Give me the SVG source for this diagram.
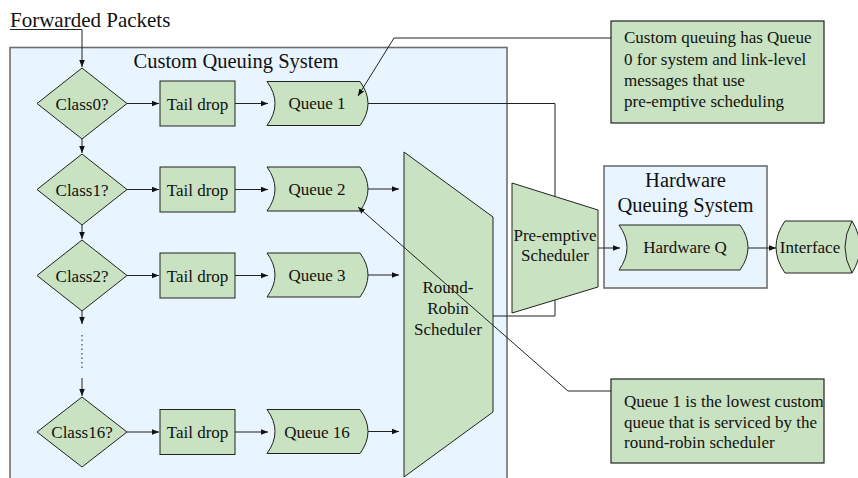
<svg xmlns="http://www.w3.org/2000/svg" width="858" height="478" viewBox="0 0 858 478" font-family="'Liberation Serif', 'DejaVu Serif', serif">
<style>
text{font-family:'Liberation Serif','DejaVu Serif',serif;fill:#111}
.t{font-size:17px;text-anchor:middle}
.title{font-size:20.5px;text-anchor:middle}
.note{font-size:17px}
.shape{fill:#C9E2C1;stroke:#222;stroke-width:1}
.box{fill:#E8F4FE;stroke:#6e6e6e;stroke-width:1.6}
.note-box{fill:#C9E2C1;stroke:#222;stroke-width:1.2}
.c{fill:none;stroke:#222;stroke-width:1}
.a{marker-end:url(#ah)}
.dot{stroke-dasharray:1.5 3}
</style>
<defs>
<marker id="ah" viewBox="0 0 10 10" refX="10" refY="5" markerWidth="7" markerHeight="7" markerUnits="userSpaceOnUse" orient="auto">
<path d="M0,1 L10,5 L0,9 Z" fill="#111"/>
</marker>
</defs>
<rect width="858" height="478" fill="#fff"/>

<g id="custom-queuing-system">
<rect class="box" x="10" y="47.5" width="497" height="440"/>
<text class="title" x="236" y="68">Custom Queuing System</text>
</g>
<g id="hardware-queuing-system">
<rect class="box" x="604" y="166" width="163" height="122"/>
<text class="title" x="685.5" y="187">Hardware</text>
<text class="title" x="685.5" y="211.5">Queuing System</text>
</g>

<text x="10" y="26.5" style="font-size:21px">Forwarded Packets</text>

<g id="class0"><polygon class="shape" points="82,68 127,103.5 82,139 37,103.5"/><text class="t" x="82" y="109.5">Class0?</text></g>
<g id="class1"><polygon class="shape" points="82,154 127,189.5 82,225 37,189.5"/><text class="t" x="82" y="195.5">Class1?</text></g>
<g id="class2"><polygon class="shape" points="82,240 127,275.5 82,311 37,275.5"/><text class="t" x="82" y="281.5">Class2?</text></g>
<g id="class16"><polygon class="shape" points="82,397 127,432 82,467 37,432"/><text class="t" x="82" y="438">Class16?</text></g>

<g id="taildrop0"><rect class="shape" x="160" y="81" width="75" height="45"/><text class="t" x="197.5" y="109.5">Tail drop</text></g>
<g id="taildrop1"><rect class="shape" x="160" y="167" width="75" height="45"/><text class="t" x="197.5" y="195.5">Tail drop</text></g>
<g id="taildrop2"><rect class="shape" x="160" y="253" width="75" height="45"/><text class="t" x="197.5" y="281.5">Tail drop</text></g>
<g id="taildrop16"><rect class="shape" x="160" y="409.5" width="75" height="45"/><text class="t" x="197.5" y="438">Tail drop</text></g>

<g id="queue1"><path class="shape" d="M267,81.5 L360,81.5 Q376,103.5 360,125.5 L267,125.5 Q283,103.5 267,81.5 Z"/><text class="t" x="317" y="109">Queue 1</text></g>
<g id="queue2"><path class="shape" d="M267,167 L360,167 Q376,189 360,211 L267,211 Q283,189 267,167 Z"/><text class="t" x="317" y="195">Queue 2</text></g>
<g id="queue3"><path class="shape" d="M267,253 L360,253 Q376,275 360,297 L267,297 Q283,275 267,253 Z"/><text class="t" x="317" y="281">Queue 3</text></g>
<g id="queue16"><path class="shape" d="M267,409.5 L360,409.5 Q376,431.5 360,453.5 L267,453.5 Q283,431.5 267,409.5 Z"/><text class="t" x="317" y="437.5">Queue 16</text></g>

<g id="round-robin-scheduler">
<polygon class="shape" points="404,152 493,217 493,412 404,477"/>
<text class="t" x="448" y="293">Round-</text>
<text class="t" x="448" y="314">Robin</text>
<text class="t" x="448" y="335">Scheduler</text>
</g>

<g id="hardware-q"><path class="shape" d="M619,225 L740,225 Q756,247.5 740,270 L619,270 Q635,247.5 619,225 Z"/><text class="t" x="685" y="253">Hardware Q</text></g>

<g id="interface">
<path class="shape" d="M785,221 L852,221 Q868,247 852,273 L785,273 Q767,247 785,221 Z"/>
<path class="c" d="M852,221 Q838,247 852,273"/>
<text class="t" x="810" y="253">Interface</text>
</g>

<g id="connectors">
<polyline class="c a" points="10,29.5 82,29.5 82,67"/>
<line class="c a" x1="82" y1="139" x2="82" y2="153"/>
<line class="c a" x1="82" y1="225" x2="82" y2="239"/>
<line class="c a" x1="82" y1="311" x2="82" y2="324"/>
<line class="c dot" x1="82" y1="335" x2="82" y2="370"/>
<line class="c a" x1="82" y1="378" x2="82" y2="396"/>
<line class="c a" x1="127" y1="103.5" x2="159" y2="103.5"/>
<line class="c a" x1="127" y1="189.5" x2="159" y2="189.5"/>
<line class="c a" x1="127" y1="275.5" x2="159" y2="275.5"/>
<line class="c a" x1="127" y1="432" x2="159" y2="432"/>
<line class="c a" x1="235" y1="103.5" x2="268" y2="103.5"/>
<line class="c a" x1="235" y1="189.5" x2="268" y2="189.5"/>
<line class="c a" x1="235" y1="275.5" x2="268" y2="275.5"/>
<line class="c a" x1="235" y1="432" x2="268" y2="432"/>
<line class="c a" x1="368" y1="189" x2="399" y2="189"/>
<line class="c a" x1="368" y1="275" x2="399" y2="275"/>
<line class="c a" x1="368" y1="431.5" x2="399" y2="431.5"/>
<polyline class="c" points="368,103.5 555,103.5 555,316 493,316"/>
<line class="c a" x1="598" y1="248" x2="620" y2="248"/>
<line class="c a" x1="748" y1="248" x2="776" y2="248"/>
<polyline class="c a" points="611,38 394,38 358,96"/>
<polyline class="c a" points="611,391 568,391 358,207"/>
</g>

<g id="pre-emptive-scheduler">
<polygon class="shape" points="512,183 598,210 598,287 512,313"/>
<text class="t" x="555" y="240.5">Pre-emptive</text>
<text class="t" x="555" y="260.5">Scheduler</text>
</g>

<g id="note-queue0">
<rect class="note-box" x="611" y="21" width="213" height="102"/>
<text class="note" x="624" y="43">Custom queuing has Queue</text>
<text class="note" x="624" y="64.5">0 for system and link-level</text>
<text class="note" x="624" y="85.5">messages that use</text>
<text class="note" x="624" y="107">pre-emptive scheduling</text>
</g>
<g id="note-queue1">
<rect class="note-box" x="611" y="379" width="213" height="84"/>
<text class="note" x="624" y="407">Queue 1 is the lowest custom</text>
<text class="note" x="624" y="427.5">queue that is serviced by the</text>
<text class="note" x="624" y="448">round-robin scheduler</text>
</g>
</svg>
